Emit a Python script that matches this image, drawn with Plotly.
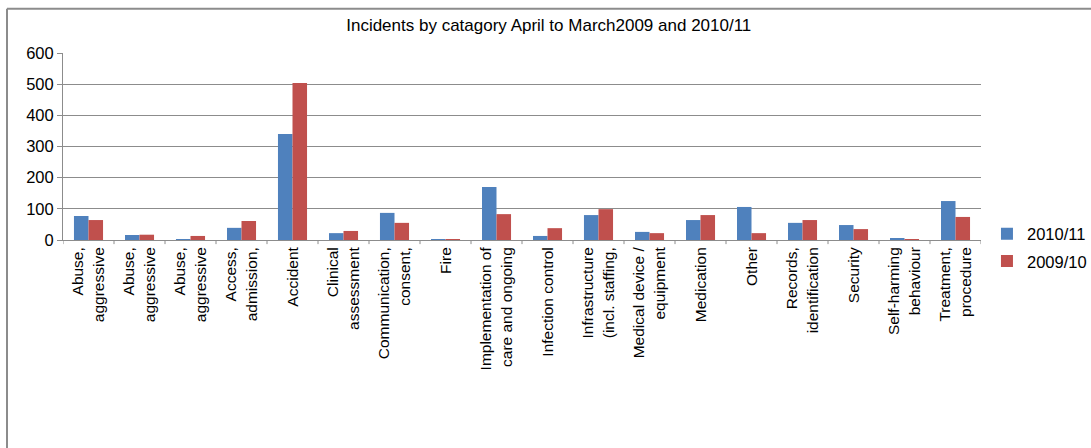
import plotly.graph_objects as go

categories = [
    "Abuse,<br>aggressive", "Abuse,<br>aggressive", "Abuse,<br>aggressive",
    "Access,<br>admission,", "Accident", "Clinical<br>assessment",
    "Communication,<br>consent,", "Fire", "Implementation of<br>care and ongoing",
    "Infection control", "Infrastructure<br>(incl. staffing,",
    "Medical device /<br>equipment", "Medication", "Other",
    "Records,<br>identification", "Security", "Self-harming<br>behaviour",
    "Treatment,<br>procedure",
]
vals_2010_11 = [77, 16, 3, 39, 340, 22, 87, 3, 170, 13, 80, 26, 64, 106, 55, 48, 6, 125]
vals_2009_10 = [64, 17, 13, 61, 504, 29, 55, 3, 83, 38, 99, 22, 80, 22, 64, 35, 3, 74]
y_ticks = [0, 100, 200, 300, 400, 500, 600]

x_idx = list(range(len(categories)))

fig = go.Figure()
fig.add_trace(go.Bar(x=x_idx, y=vals_2010_11, name="2010/11",
                     marker=dict(color="#4F81BD", line=dict(width=0)),
                     legendgroup="a"))
fig.add_trace(go.Bar(x=x_idx, y=vals_2009_10, name="2009/10",
                     marker=dict(color="#C0504D", line=dict(width=0)),
                     legendgroup="b"))

font_family = "Liberation Sans, Arial, sans-serif"
grid = "#8C8C8C"

fig.update_layout(
    width=1091, height=448,
    margin=dict(l=63, r=110, t=53, b=208, autoexpand=False),
    paper_bgcolor="white", plot_bgcolor="white",
    barmode="group", bargap=0.43, bargroupgap=0,
    font=dict(family=font_family, color="#000000"),
    title=dict(text="Incidents by catagory April to March2009 and 2010/11",
               x=0.503, xref="container", xanchor="center",
               y=1 - 25 / 448, yref="container", yanchor="middle",
               font=dict(size=17, family=font_family, color="#000000")),
    legend=dict(x=1.0065, xanchor="left", y=0.126, yanchor="top",
                font=dict(size=16.5, family=font_family),
                tracegroupgap=3, itemwidth=30,
                bgcolor="rgba(0,0,0,0)"),
    showlegend=True,
    xaxis=dict(
        type="linear",
        tickmode="array", tickvals=x_idx, ticktext=categories,
        range=[-0.5, len(categories) - 0.5],
        tickangle=-90, ticks="", showgrid=False,
        tickfont=dict(size=15.5, family=font_family, color="#000000"),
        showline=True, linecolor=grid, linewidth=1,
        zeroline=False,
    ),
    yaxis=dict(
        range=[0, 600], tickmode="array", tickvals=y_ticks,
        ticks="outside", ticklen=5, tickcolor=grid,
        showgrid=True, gridcolor=grid, gridwidth=1,
        showline=True, linecolor=grid, linewidth=1,
        zeroline=False,
        tickfont=dict(size=16.5, family=font_family, color="#000000"),
    ),
)

# category boundary tick marks below the x axis
shapes = []
for b in range(len(categories) + 1):
    shapes.append(dict(type="line", xref="x", yref="paper",
                       x0=b - 0.5, x1=b - 0.5, y0=0, y1=-0.022,
                       line=dict(color=grid, width=1)))
# chart area border (top and left visible)
shapes.append(dict(type="line", xref="paper", yref="paper",
                   x0=-0.061, x1=1.2, y0=1.236, y1=1.236,
                   line=dict(color="#8C8C8C", width=2)))
shapes.append(dict(type="line", xref="paper", yref="paper",
                   x0=-0.061, x1=-0.061, y0=1.236, y1=-1.2,
                   line=dict(color="#8C8C8C", width=2)))
fig.update_layout(shapes=shapes)

fig.write_html("out.html",
               config={"displayModeBar": False},
               post_script="document.body.style.margin='0';document.body.style.overflow='hidden';")
